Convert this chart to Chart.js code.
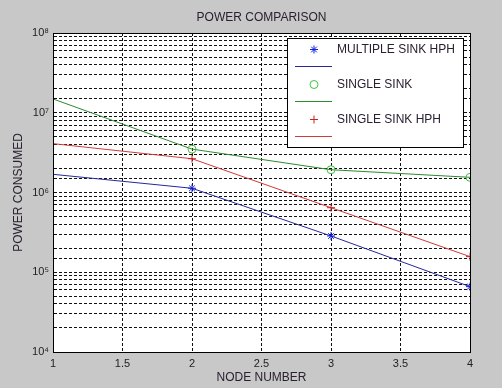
<!DOCTYPE html>
<html>
<head>
<meta charset="utf-8">
<script src="https://cdn.jsdelivr.net/npm/chart.js@4/dist/chart.umd.min.js"></script>
<style>
html,body{margin:0;padding:0;background:#c8c8c8;}
#wrap{width:502px;height:388px;}
</style>
</head>
<body>
<div id="wrap"><canvas id="c" width="502" height="388"></canvas></div>
<script>
// ---- data ----
const chartTitle = 'POWER COMPARISON';
const nodes = [1, 2, 3, 4];
const multipleSinkHph = [1.69e6, 1.13e6, 2.85e5, 6.6e4];
const singleSink = [1.49e7, 3.5e6, 1.93e6, 1.55e6];
const singleSinkHph = [4.1e6, 2.65e6, 6.45e5, 1.57e5];
const seriesLabels = ['MULTIPLE SINK HPH', 'SINGLE SINK', 'SINGLE SINK HPH'];
const xTickValues = [1, 1.5, 2, 2.5, 3, 3.5, 4];
const yMin = 1e4, yMax = 1e8;
const supers = {'0':'⁰','1':'¹','2':'²','3':'³','4':'⁴','5':'⁵','6':'⁶','7':'⁷','8':'⁸','9':'⁹'};

const FONT = '"Liberation Sans", Arial, sans-serif';
const toPts = arr => nodes.map((x, i) => ({x: x, y: arr[i]}));
const markerRadii = nodes.map((x, i) => i === 0 ? 0 : 4);

const styles = [
  {line:'#26289a', marker:'#1020e0', style:'star', fill:'#1020e0'},
  {line:'#2e8a2e', marker:'#44c044', style:'circle', fill:'rgba(0,0,0,0)'},
  {line:'#d03a3a', marker:'#d02020', style:'cross', fill:'#d02020'}
];
const values = [multipleSinkHph, singleSink, singleSinkHph];

const datasets = values.map((v, i) => ({
  label: seriesLabels[i],
  data: toPts(v),
  borderColor: styles[i].line,
  borderWidth: 1,
  pointStyle: styles[i].style,
  pointRadius: markerRadii,
  pointBorderColor: styles[i].marker,
  pointBackgroundColor: styles[i].fill,
  pointBorderWidth: 1,
  tension: 0,
  fill: false
}));

const bgPlugin = {
  id: 'bg',
  beforeDraw(chart) {
    const {ctx, chartArea: a} = chart;
    ctx.save();
    ctx.fillStyle = '#c8c8c8';
    ctx.fillRect(0, 0, chart.width, chart.height);
    ctx.fillStyle = '#ffffff';
    ctx.fillRect(a.left, a.top, a.right - a.left, a.bottom - a.top);
    ctx.restore();
  },
  afterDraw(chart) {
    const {ctx, chartArea: a} = chart;
    ctx.save();
    // title centred over plot area
    ctx.font = '12px ' + FONT;
    ctx.fillStyle = '#2a2030';
    ctx.textAlign = 'center';
    ctx.textBaseline = 'middle';
    ctx.fillText(chartTitle, (a.left + a.right) / 2, 18);
    ctx.strokeStyle = '#000';
    ctx.lineWidth = 1;
    ctx.strokeRect(Math.round(a.left) + 0.5, Math.round(a.top) + 0.5,
                   Math.round(a.right - a.left), Math.round(a.bottom - a.top));
    // legend (MATLAB style)
    const lx = 287, ly = 38, lw = 176, lh = 109;
    ctx.fillStyle = '#fff';
    ctx.fillRect(lx, ly, lw, lh);
    ctx.strokeRect(lx + 0.5, ly + 0.5, lw, lh);
    ctx.textAlign = 'left';
    chart.data.datasets.forEach((ds, i) => {
      const my = 49.5 + i * 35;
      const lineY = 66.5 + i * 35;
      ctx.strokeStyle = styles[i].marker;
      ctx.fillStyle = styles[i].fill;
      ctx.lineWidth = 1;
      Chart.helpers.drawPoint(ctx, {pointStyle: styles[i].style, radius: 4, rotation: 0, borderWidth: 1}, 314, my);
      ctx.fillStyle = '#2a2030';
      ctx.fillText(ds.label, 337, my);
      ctx.strokeStyle = styles[i].line;
      ctx.beginPath();
      ctx.moveTo(295, lineY);
      ctx.lineTo(332, lineY);
      ctx.stroke();
    });
    ctx.restore();
  }
};

new Chart(document.getElementById('c'), {
  type: 'line',
  data: {datasets: datasets},
  plugins: [bgPlugin],
  options: {
    responsive: false,
    animation: false,
    events: [],
    layout: {padding: {left: 0, right: 32, top: 33, bottom: 0}},
    plugins: {
      legend: {display: false},
      tooltip: {enabled: false},
      title: {display: false}
    },
    scales: {
      x: {
        type: 'linear',
        min: 1, max: 4,
        afterFit(s) { s.height = 36; },
        afterBuildTicks(s) { s.ticks = xTickValues.map(v => ({value: v})); },
        ticks: {
          color: '#222',
          font: {family: FONT, size: 11},
          padding: 5,
          maxRotation: 0,
          autoSkip: false,
          callback: v => String(v)
        },
        grid: {color: '#111', lineWidth: 1, drawTicks: false},
        border: {display: true, color: '#000', dash: [3, 2]},
        title: {
          display: true,
          text: 'NODE NUMBER',
          color: '#2a2030',
          font: {family: FONT, size: 12},
          padding: {top: 0, bottom: 3}
        }
      },
      y: {
        type: 'logarithmic',
        min: yMin, max: yMax,
        afterFit(s) { s.width = 53; },
        ticks: {
          color: '#222',
          font: {family: FONT, size: 11},
          padding: 4,
          autoSkip: false,
          callback: function (v) {
            const e = Math.log10(v);
            if (Math.abs(e - Math.round(e)) < 1e-9) {
              return '10' + String(Math.round(e)).split('').map(c => supers[c]).join('');
            }
            return '';
          }
        },
        grid: {color: '#111', lineWidth: 1, drawTicks: false},
        border: {display: true, color: '#000', dash: [3, 2]},
        title: {
          display: true,
          text: 'POWER CONSUMED',
          color: '#2a2030',
          font: {family: FONT, size: 12},
          padding: {top: 11, bottom: 0}
        }
      }
    }
  }
});
</script>
</body>
</html>
